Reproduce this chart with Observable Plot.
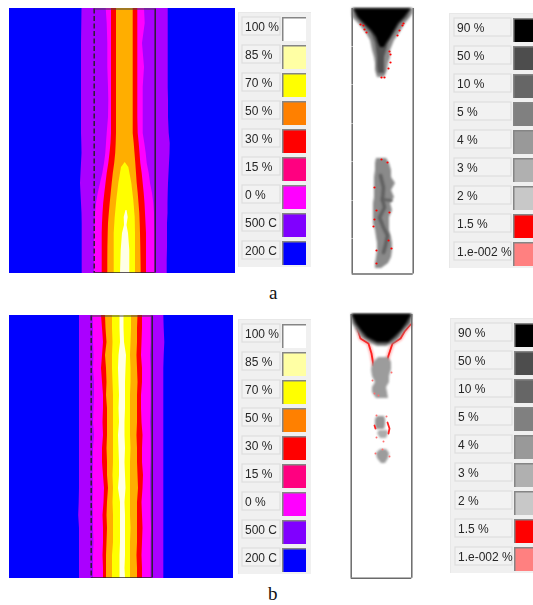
<!DOCTYPE html>
<html><head><meta charset="utf-8">
<script src="https://cdn.jsdelivr.net/npm/d3@7"></script>
<script src="https://cdn.jsdelivr.net/npm/@observablehq/plot@0.6"></script>
<style>
html,body{margin:0;padding:0;background:#fff;width:533px;height:605px;overflow:hidden}
#root{position:relative;width:533px;height:605px}
#root svg{position:absolute;display:block;max-width:none;background:transparent}
.cap{position:absolute;font:19px "Liberation Serif",serif;color:#111;line-height:16px}
</style></head><body><div id="root"></div>
<script>
// Legend categories
const tempLabels=["100 %","85 %","70 %","50 %","30 %","15 %","0 %","500 C","200 C"];
const tempColors=["#ffffff","#ffffa4","#ffff00","#ff8000","#ff0000","#ff0080","#ff00ff","#8000ff","#0000ff"];
const massLabels=["90 %","50 %","10 %","5 %","4 %","3 %","2 %","1.5 %","1.e-002 %"];
const massColors=["#000000","#4d4d4d","#666666","#808080","#999999","#b0b0b0","#c8c8c8","#ff0000","#ff8080"];

// Temperature field a: band edges read per height
const aY=[8,23,43,67,87,100,117,133,143,153,163,173,183,193,203,213,223,233,247,260,273];
const aPurpleL=[81.5,81.3,81,81,81,81,81,81,81.3,81.5,81,80.5,80,80.5,81,81.5,81.7,81.7,81.7,81.7,81.7];
const aPurpleR=[167.7,167.7,167.7,167.7,167.7,168,168,168.7,169.7,169.5,169,168.5,168,167.7,167.5,167.5,167,167,167,166.7,166.7];
const aMagentaL=[105.7,106.7,107.3,107.3,108,108.3,108,106.7,106,105.3,104,102.3,100,97.7,96,95,94.7,94,94,94,94];
const aMagentaR=[144,144.7,142,144,142.7,142.7,142.7,142.7,144.3,145.7,146.7,148.7,150,152,153.3,154,154.3,154.7,154.7,154.7,154.7];
const aRedL=[111,111,111,111,111,111,111,111,110.5,109.5,108.3,106.7,105.5,104.3,103.2,102.5,102,101.7,101.7,101.7,101.7];
const aRedR=[137.3,137.3,137.3,137.3,137.3,137.3,137.3,137.7,138.7,139.5,140.3,141.7,142.7,143.7,144.5,145,145.5,146,146,146,146];
const aOrangeL=[116,116,116,116,116,116,116,116,115.7,115.2,114.2,112.8,111.7,110.7,109.7,108.8,108,107.7,107.4,107.3,107.3];
const aOrangeR=[132.7,132.7,132.7,132.7,132.7,132.7,132.7,132.7,133.7,134.5,135.3,136,136.7,137.7,138.5,139.3,139.7,140,140.3,140.5,140.7];
const aYellowY=[162,167,183,200,217,233,273];
const aYellowL=[124.7,121,118.3,116.3,114.7,113.7,113.7];
const aYellowR=[124.7,128.3,131.3,133.3,134.7,135,135];
const aPaleY=[210,217,225,233,250,273];
const aPaleL=[125.5,123.7,124,122,120.7,120];
const aPaleR=[126.5,127.7,126.5,128,129.3,129.3];

// Temperature field b
const bY=[315,328,342,355,368,382,395,408,422,435,448,462,475,488,502,515,528,542,555,568,578];
const bPurpleL=[79,79,79,79,79,79,79,79,79,79,79,79,79,79,78.7,78.2,79,79,79,79,79];
const bPurpleR=[163.3,163.7,164.3,163.7,163.3,163.3,163.3,163.3,163.3,163.3,163.3,163.3,163.3,163.3,163.3,163.3,163.3,163.3,163.3,163.3,163.3];
const bMagentaL=[92.5,93,93,93.5,93,94,94,93.5,93,94,93,93,92.5,93,92.5,93,93,93.5,93,93,93];
const bMagentaR=[150.7,150.5,150.7,150,150.5,150.5,150.7,150.5,150,150.5,150.7,150.5,150,150,150.5,150.5,151,150.5,150.5,150.5,150.5];
const bRedL=[101,102,103,102,101,102,103,103,102.5,103,102,102,103,104,103.5,102.5,103,103,102.5,103,103];
const bRedR=[142,142,141.5,141,142,142,141,141,141.5,142.5,142,142,143,142.5,141.5,142,142.5,142,141.5,142,142];
const bOrangeL=[105,105.5,106.5,105,106,106.5,106,107,107,107,106.5,107,107,108,107,106.5,107,106.5,106,106,106];
const bOrangeR=[137.5,137,137,136.5,137,137.5,137,137,137,136.5,137,137,137.5,138,137,137,137,137,136.5,137,137];
const bYellowL=[112,112,112.5,112,112,112.5,113,113,113,113,113,113,112.5,113,112.5,113,113,113,112,112,112];
const bYellowR=[131,131,130.5,130,130.5,130.5,130,130,130,130,130.5,130,130,130,130,130,130.5,130,130,130,130];
const bPaleL=[119.5,119.5,120,118.5,118,118.5,119,118.5,119,118,118.5,119,119,118,120,120,120,120,119.5,119.5,119.5];
const bPaleR=[123.5,123.5,124,126,125.5,125,125,125,124.5,124.5,125,124.5,125,125.5,124.5,125,125,125,125,124.5,125];

// Mass field a: upper plume
const maOuterY=[8,13,17,23,33,40,50,57,63,70,77];
const maOuterL=[351.7,351.7,352,358,366,370,372,374,375,375,377];
const maOuterR=[412.7,412.7,410,405,399,394,390,390,388,387,384];
const maMidY=[8,17,23,33,43,50,57,67,73];
const maMidL=[353,356,362,371,375,376,377,377,378];
const maMidR=[411,407,400,394,388,386,384,384,384];
const maCoreY=[9,17,23,30,37,43,47];
const maCoreL=[354,358,364,371,376,378,380];
const maCoreR=[410,404,398,394,390,386,384];
// Mass field a: lower plume
const mlY=[158,163,170,177,183,190,197,203,210,217,223,230,237,243,250,257,263,268];
const mlL=[376,375,375,374,374,374,374,373,373,373,373,375,376,377,377,376,375,375];
const mlR=[386,389,391,391,395,391,394,390,392,389,389,389,391,392,392,391,388,381];
const mlStreakX=[380,383,382,384,379,383,387,385,383];
const mlStreakY=[175,187,199,207,217,227,235,245,252];
const mlSpurX=[382,391];
const mlSpurY=[199,200];
const maRedX=[360,363,364,366,403,402,399,397,389,390,390,388,381,384,381,387,374,376,374,373,389,388,391,376,376];
const maRedY=[24,25,29,32,23,25,30,35,51,54,62,68,77,77,159,162,187,210,219,226,212,240,248,250,263];

// Mass field b
const mbOuterY=[314,323,330,337,343,346];
const mbOuterL=[351,352,356,361,370,377];
const mbOuterR=[412,411,405,400,394,386];
const mbMidY=[314,323,330,337,342,344];
const mbMidL=[351.5,354,359,364,373,378];
const mbMidR=[411.5,409,402,397,390,386];
const mbCoreY=[314,323,330,337,342];
const mbCoreL=[352,356,361,367,377];
const mbCoreR=[411,406,401,394,388];
const mbBlob1Y=[357,362,369,376,382,387,392,398];
const mbBlob1L=[378,373,371,372,375,372,372,376];
const mbBlob1R=[388,391,391,389,389,386,387,388];
const mbBlob2Y=[416,419,425,429];
const mbBlob2L=[377,375,375,376];
const mbBlob2R=[384,385,385,384];
const mbBlob3Y=[430,433,438];
const mbBlob3L=[379,377,380];
const mbBlob3R=[387,388,386];
const mbBlob4Y=[449,453,458,463];
const mbBlob4L=[380,376,377,381];
const mbBlob4R=[386,389,388,385];
const mbRedLeftX=[357,360,368,371,373];
const mbRedLeftY=[328,338,343,353,365];
const mbRedRightX=[410,404,400,392,388,386];
const mbRedRightY=[324,331,338,343,355,362];
const mbArcX=[387,389,388];
const mbArcY=[422,428,433];
const mbArc2X=[374,375];
const mbArc2Y=[425,428];
const mbRedDotX=[382,375,372,378,391,374,376,386,383,376,389];
const mbRedDotY=[449,453,380,395,372,393,415,416,441,437,456];

const root=document.getElementById("root");
const rows=(y,l,r)=>y.map((v,i)=>({y:v,l:l[i],r:r[i]}));
const pts=(x,y)=>x.map((v,i)=>({x:v,y:y[i]}));
const soft="blur(0.45px)";
const band=(y,l,r,fill,blur=soft)=>Plot.areaX(rows(y,l,r),{y:"y",x1:"l",x2:"r",fill,imageFilter:blur});

function place(svg,left,top){svg.style.left=left+"px";svg.style.top=top+"px";root.appendChild(svg);}

function field(left,top,w,h,marks){
  const svg=Plot.plot({width:w,height:h,margin:0,
    x:{domain:[left,left+w],range:[0,w],axis:null},
    y:{domain:[top,top+h],range:[0,h],axis:null},marks});
  place(svg,left,top);
}

function box(x0,x1,y0,y1,color,wide,dash){
  const s={stroke:color,strokeWidth:wide};
  return [
    Plot.ruleX([x0],{y1:()=>y0,y2:()=>y1,...s,strokeDasharray:dash}),
    Plot.ruleX([x1],{y1:()=>y0,y2:()=>y1,...s}),
    Plot.ruleY([y1],{x1:()=>x0,x2:()=>x1,...s})
  ];
}

// Temperature a
field(9,8,226,265,[
  Plot.frame({fill:"#0000ff",stroke:"#0000ff"}),
  band(aY,aPurpleL,aPurpleR,"#aa00ff"),
  band(aY,aMagentaL,aMagentaR,"#ff00ff"),
  band(aY,aRedL,aRedR,"#ff0000"),
  band(aY,aOrangeL,aOrangeR,"#ffae00"),
  band(aYellowY,aYellowL,aYellowR,"#ffff00"),
  band(aPaleY,aPaleL,aPaleR,"#ffffe6"),
  ...box(93.7,154.7,8.5,272.5,"#2a2030",1.5,"5 2.5"),
  Plot.ruleY([8.5],{x1:()=>93.7,x2:()=>154.7,stroke:"#444",strokeWidth:1.2})
]);

// Temperature b
field(9,315,224,263,[
  Plot.frame({fill:"#0000ff",stroke:"#0000ff"}),
  band(bY,bPurpleL,bPurpleR,"#aa00ff"),
  band(bY,bMagentaL,bMagentaR,"#ff00ff"),
  band(bY,bRedL,bRedR,"#ff0000"),
  band(bY,bOrangeL,bOrangeR,"#ffae00"),
  band(bY,bYellowL,bYellowR,"#ffff00"),
  band(bY,bPaleL,bPaleR,"#ffffe6"),
  ...box(90.7,151.7,315.5,577.5,"#2a2030",1.5,"5 2.5"),
  Plot.ruleY([315.5],{x1:()=>90.7,x2:()=>151.7,stroke:"#444",strokeWidth:1.2})
]);

// Mass a
const fogOuter="blur(1.1px)", fogMid="blur(1.3px)", fogCore="blur(1px)";
field(345,4,75,275,[
  band(maOuterY,maOuterL,maOuterR,"#8c8c8c",fogOuter),
  band(maMidY,maMidL,maMidR,"#505050",fogMid),
  band(maCoreY,maCoreL,maCoreR,"#000000",fogCore),
  band(mlY,mlL,mlR,"#8a8a8a",fogOuter),
  Plot.line(pts(mlStreakX,mlStreakY),{x:"x",y:"y",stroke:"#606060",strokeWidth:3.5,imageFilter:"blur(1.3px)"}),
  Plot.line(pts(mlSpurX,mlSpurY),{x:"x",y:"y",stroke:"#606060",strokeWidth:2.5,imageFilter:"blur(1px)"}),
  Plot.dot(pts(maRedX,maRedY),{x:"x",y:"y",r:1.1,fill:"#ff0000",imageFilter:"blur(0.35px)"}),
  ...box(351.7,412.7,8,273.5,"#6a6a6a",1.5,"38 0.5")
]);

// Mass b
field(345,310,75,272,[
  Plot.line(pts(mbRedLeftX,mbRedLeftY),{x:"x",y:"y",stroke:"#ffb0b0",strokeWidth:4,imageFilter:"blur(1px)"}),
  Plot.line(pts(mbRedRightX,mbRedRightY),{x:"x",y:"y",stroke:"#ffb0b0",strokeWidth:4,imageFilter:"blur(1px)"}),
  Plot.line(pts(mbRedLeftX,mbRedLeftY),{x:"x",y:"y",stroke:"#ff2020",strokeWidth:1.8,imageFilter:"blur(0.5px)"}),
  Plot.line(pts(mbRedRightX,mbRedRightY),{x:"x",y:"y",stroke:"#ff2020",strokeWidth:1.8,imageFilter:"blur(0.5px)"}),
  band(mbOuterY,mbOuterL,mbOuterR,"#8c8c8c",fogOuter),
  band(mbMidY,mbMidL,mbMidR,"#505050",fogMid),
  band(mbCoreY,mbCoreL,mbCoreR,"#000000",fogCore),
  band(mbBlob1Y,mbBlob1L,mbBlob1R,"#9c9c9c",fogOuter),
  band(mbBlob2Y,mbBlob2L,mbBlob2R,"#959595",fogOuter),
  band(mbBlob3Y,mbBlob3L,mbBlob3R,"#acacac",fogOuter),
  band(mbBlob4Y,mbBlob4L,mbBlob4R,"#9c9c9c",fogOuter),
  Plot.line(pts(mbArcX,mbArcY),{x:"x",y:"y",stroke:"#ff2020",strokeWidth:1.8,imageFilter:"blur(0.4px)"}),
  Plot.line(pts(mbArc2X,mbArc2Y),{x:"x",y:"y",stroke:"#ff2020",strokeWidth:1.8,imageFilter:"blur(0.4px)"}),
  Plot.dot(pts(mbRedDotX,mbRedDotY),{x:"x",y:"y",r:1,fill:"#ff7070",imageFilter:"blur(0.4px)"}),
  ...box(350.7,411.3,314,577.7,"#6a6a6a",1.5,"none")
]);

// Legends
function legend(left,top,w,labels,colors,chipX,chipW,swatchX,swatchW){
  const svg=Plot.plot({width:w,height:255,margin:0,
    x:{domain:[0,w],range:[0,w],axis:null},
    y:{type:"band",domain:labels,range:[4,255],paddingInner:0.13,paddingOuter:0,axis:null},
    marks:[
      Plot.frame({fill:"#f0f0f0",stroke:"#e8e8e8"}),
      Plot.barX(labels,{y:d=>d,x1:()=>chipX,x2:()=>chipX+chipW,insetBottom:6,fill:"#f2f2f2",stroke:"#dedede",strokeWidth:1.2}),
      Plot.barX(labels,{y:d=>d,x1:()=>swatchX,x2:()=>swatchX+swatchW,fill:"#858585"}),
      Plot.barX(labels,{y:d=>d,x1:()=>swatchX,x2:()=>swatchX+swatchW,insetLeft:1.5,insetTop:1.5,
        fill:(d,i)=>colors[i]}),
      Plot.text(labels,{y:d=>d,x:()=>chipX+2.5,text:d=>d,textAnchor:"start",dy:-2,fontSize:12,
        fontFamily:"Liberation Sans",fill:"#262626",imageFilter:"blur(0.3px)"})
    ]});
  place(svg,left,top);
}
legend(238,12,73,tempLabels,tempColors,4,38,44,24);
legend(449,13,84,massLabels,massColors,5,57,64,25);
legend(238,319,73,tempLabels,tempColors,4,38,44,24);
legend(450,318,83,massLabels,massColors,5,57,64,25);

// Panel captions
[["a",269,285],["b",268,586]].forEach(([t,l,tp])=>{
  const d=document.createElement("div");d.className="cap";d.textContent=t;
  d.style.left=l+"px";d.style.top=tp+"px";root.appendChild(d);
});
</script></body></html>
